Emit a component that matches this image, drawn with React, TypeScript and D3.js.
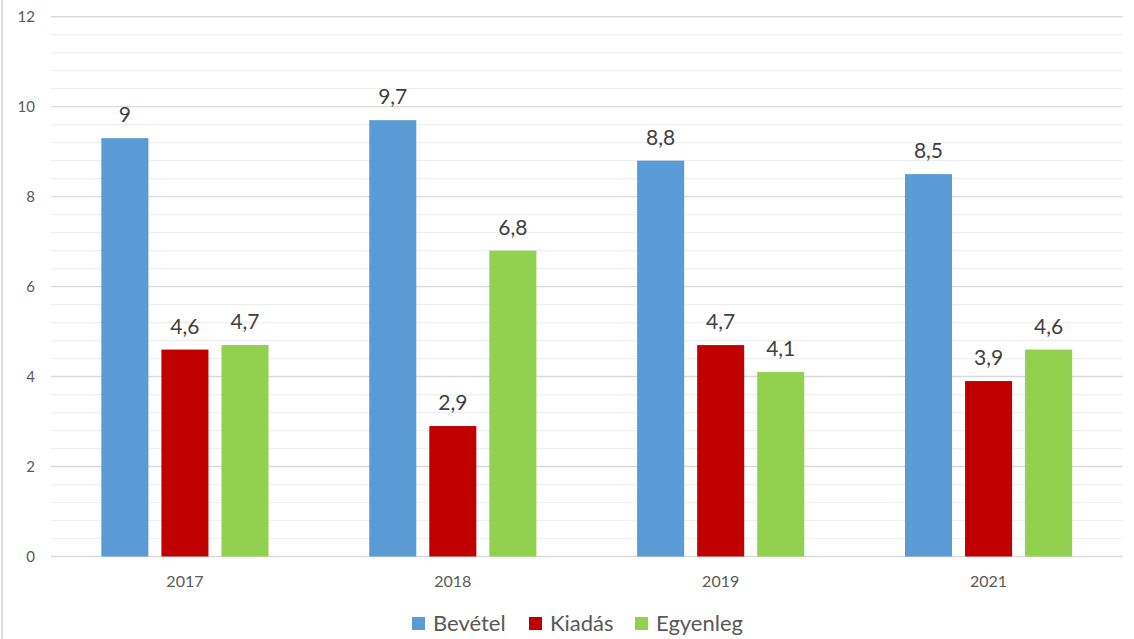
import React from "react";
import * as d3 from "d3";

const categories = ["2017", "2018", "2019", "2021"];
const seriesNames = ["Bevétel", "Kiadás", "Egyenleg"];
const bevetel = [9.3, 9.7, 8.8, 8.5];
const kiadas = [4.6, 2.9, 4.7, 3.9];
const egyenleg = [4.7, 6.8, 4.1, 4.6];
const bevetelLabels = ["9", "9,7", "8,8", "8,5"];
const kiadasLabels = ["4,6", "2,9", "4,7", "3,9"];
const egyenlegLabels = ["4,7", "6,8", "4,1", "4,6"];
const yTicks = [0, 2, 4, 6, 8, 10, 12];
const colors = ["#5B9BD5", "#C00000", "#92D050"];

const W = 1134;
const H = 639;
const FONT = "Lato, 'Open Sans', sans-serif";

export default function App() {
  const values = [bevetel, kiadas, egyenleg];
  const labels = [bevetelLabels, kiadasLabels, egyenlegLabels];
  const x0 = d3.scaleBand().domain(categories).range([51, 1122.5]).paddingInner(0.376).paddingOuter(0.188);
  const x1 = d3.scaleBand().domain(seriesNames).range([0, x0.bandwidth()]).paddingInner(0.2167).paddingOuter(0);
  const y = d3.scaleLinear().domain([0, 12]).range([556.5, 16.7]);
  const minor = d3.range(0, 12.001, 0.4).filter((v) => Math.abs(v / 2 - Math.round(v / 2)) > 0.01);

  const legendX = [412, 529, 635];

  return (
    <svg width={W} height={H} style={{ position: "absolute", left: 0, top: 0, background: "#fff" }} fontFamily={FONT}>
      <line x1={2} x2={2} y1={0} y2={H} stroke="#d0d0d0" strokeWidth={1.5} />
      {minor.map((v) => (
        <line key={"m" + v} x1={51} x2={1122.5} y1={y(v)} y2={y(v)} stroke="#f0f0f0" strokeWidth={1.2} />
      ))}
      {yTicks.map((v) => (
        <g key={"t" + v}>
          <line x1={51} x2={1122.5} y1={y(v)} y2={y(v)} stroke="#d9d9d9" strokeWidth={1.4} />
          <text x={35} y={y(v)} dy="0.35em" textAnchor="end" fontSize={15} fill="#595959">{v}</text>
        </g>
      ))}
      {categories.map((c, i) => (
        <g key={c} transform={`translate(${x0(c)},0)`}>
          {seriesNames.map((s, j) => (
            <g key={s}>
              <rect x={x1(s)} y={y(values[j][i])} width={x1.bandwidth()} height={y(0) - y(values[j][i])} fill={colors[j]} />
              <text x={(x1(s) as number) + x1.bandwidth() / 2} y={y(values[j][i]) - 16} textAnchor="middle" fontSize={21} fill="#404040">
                {labels[j][i]}
              </text>
            </g>
          ))}
          <text x={x0.bandwidth() / 2} y={586.5} textAnchor="middle" fontSize={16} fill="#595959">{c}</text>
        </g>
      ))}
      {seriesNames.map((s, j) => (
        <g key={"l" + s}>
          <rect x={legendX[j]} y={617} width={13} height={13} fill={colors[j]} />
          <text x={legendX[j] + 21} y={630.5} fontSize={22} fill="#595959">{s}</text>
        </g>
      ))}
    </svg>
  );
}
